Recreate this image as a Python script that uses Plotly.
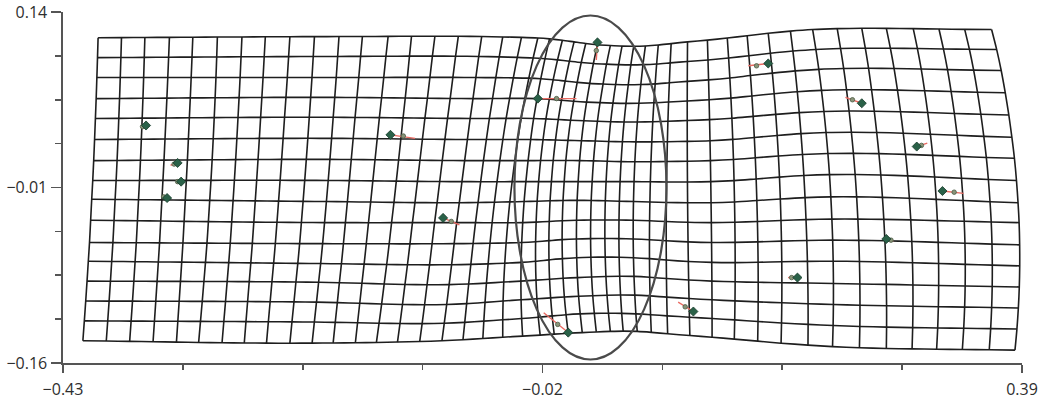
import numpy as np
import plotly.graph_objects as go

# ---------------- deformation grid (data units) -------------
# x position of each of the 45 vertical grid lines at the top row, mid height and bottom row
COL_TOP = [-0.400, -0.380, -0.360, -0.339, -0.319, -0.298, -0.277, -0.257, -0.236, -0.215,
           -0.194, -0.174, -0.152, -0.132, -0.112, -0.092, -0.072, -0.054, -0.038, -0.024,
           -0.014, -0.003, 0.007, 0.017, 0.027, 0.038, 0.048, 0.058, 0.068, 0.079,
           0.090, 0.104, 0.121, 0.138, 0.155, 0.173, 0.192, 0.211, 0.232, 0.253,
           0.274, 0.297, 0.319, 0.341, 0.364]
COL_MID = [-0.405, -0.385, -0.365, -0.345, -0.325, -0.304, -0.284, -0.265, -0.245, -0.224,
           -0.204, -0.186, -0.166, -0.146, -0.128, -0.109, -0.090, -0.074, -0.060, -0.047,
           -0.035, -0.024, -0.013, -0.002, 0.010, 0.022, 0.034, 0.046, 0.058, 0.072,
           0.086, 0.104, 0.124, 0.144, 0.163, 0.183, 0.204, 0.226, 0.248, 0.270,
           0.293, 0.316, 0.339, 0.362, 0.386]
COL_BOT = [-0.413, -0.393, -0.373, -0.353, -0.333, -0.314, -0.294, -0.275, -0.256, -0.236,
           -0.217, -0.199, -0.180, -0.162, -0.144, -0.125, -0.106, -0.088, -0.071, -0.054,
           -0.037, -0.022, -0.010, 0.002, 0.014, 0.026, 0.038, 0.049, 0.061, 0.073,
           0.087, 0.106, 0.125, 0.144, 0.164, 0.184, 0.207, 0.228, 0.251, 0.274,
           0.296, 0.317, 0.339, 0.362, 0.384]

# y position of the 16 horizontal grid lines, read at a few grid columns
STATION_COLS = [0, 10, 16, 20, 24, 28, 32, 37, 44]
ROWS_AT_C00 = [0.118, 0.101, 0.084, 0.066, 0.049, 0.031, 0.013, -0.004, -0.020, -0.038, -0.057, -0.073, -0.090, -0.107, -0.124, -0.141]
ROWS_AT_C10 = [0.119, 0.102, 0.084, 0.067, 0.050, 0.032, 0.014, -0.004, -0.022, -0.040, -0.058, -0.075, -0.091, -0.108, -0.125, -0.143]
ROWS_AT_C16 = [0.119, 0.102, 0.084, 0.066, 0.049, 0.031, 0.013, -0.005, -0.023, -0.040, -0.058, -0.076, -0.093, -0.110, -0.126, -0.141]
ROWS_AT_C20 = [0.117, 0.100, 0.083, 0.066, 0.049, 0.031, 0.013, -0.005, -0.022, -0.040, -0.057, -0.074, -0.090, -0.106, -0.122, -0.137]
ROWS_AT_C24 = [0.112, 0.096, 0.079, 0.063, 0.047, 0.030, 0.013, -0.005, -0.021, -0.038, -0.054, -0.070, -0.087, -0.103, -0.118, -0.134]
ROWS_AT_C28 = [0.111, 0.095, 0.078, 0.062, 0.046, 0.029, 0.012, -0.005, -0.022, -0.038, -0.054, -0.070, -0.086, -0.102, -0.118, -0.133]
ROWS_AT_C32 = [0.116, 0.099, 0.082, 0.065, 0.048, 0.030, 0.013, -0.005, -0.023, -0.040, -0.057, -0.074, -0.090, -0.106, -0.122, -0.138]
ROWS_AT_C37 = [0.125, 0.108, 0.091, 0.073, 0.055, 0.037, 0.019, 0.001, -0.018, -0.037, -0.055, -0.073, -0.092, -0.110, -0.128, -0.146]
ROWS_AT_C44 = [0.125, 0.108, 0.090, 0.071, 0.052, 0.033, 0.015, -0.004, -0.023, -0.040, -0.059, -0.077, -0.095, -0.113, -0.131, -0.149]

# ---------------- landmarks ----------------
LM_TARGET_X = [-0.359, -0.332, -0.329, -0.341, -0.150, -0.105, -0.024, 0.027, 0.002, 0.109, 0.173, 0.198, 0.253, 0.300, 0.322, 0.274]
LM_TARGET_Y = [0.043, 0.011, -0.005, -0.019, 0.035, -0.036, 0.066, 0.114, -0.134, -0.116, 0.096, -0.087, 0.062, 0.025, -0.013, -0.054]
LM_REF_X = [-0.362, -0.335, -0.332, -0.344, -0.139, -0.098, -0.008, 0.026, -0.007, 0.102, 0.163, 0.193, 0.245, 0.304, 0.332, 0.278]
LM_REF_Y = [0.042, 0.010, -0.005, -0.018, 0.034, -0.039, 0.066, 0.107, -0.127, -0.112, 0.094, -0.087, 0.065, 0.026, -0.014, -0.055]
LM_VEC_END_X = [-0.363, -0.338, -0.333, -0.345, -0.129, -0.091, 0.009, 0.026, -0.019, 0.096, 0.156, 0.190, 0.239, 0.309, 0.340, 0.280]
LM_VEC_END_Y = [0.041, 0.009, -0.005, -0.018, 0.032, -0.042, 0.066, 0.099, -0.117, -0.108, 0.094, -0.087, 0.067, 0.028, -0.015, -0.056]

# highlighted region (ellipse bounding box)
ELLIPSE_X = [-0.044, 0.086]
ELLIPSE_Y = [-0.157, 0.137]

X_RANGE = [-0.43, 0.39]
Y_RANGE = [-0.16, 0.14]
X_LABEL_TICKS = [-0.43, -0.02, 0.39]
X_MINOR_TICKS = [-0.3275, -0.225, -0.1225, 0.0825, 0.185, 0.2875]
Y_LABEL_TICKS = [0.14, -0.01, -0.16]
Y_MINOR_TICKS = [0.1025, 0.065, 0.0275, -0.0475, -0.085, -0.1225]


def hermite(xk, yk, xq):
    xk = np.asarray(xk, float)
    yk = np.asarray(yk, float)
    xq = np.asarray(xq, float)
    m = np.gradient(yk, xk)
    idx = np.clip(np.searchsorted(xk, xq, side="right") - 1, 0, len(xk) - 2)
    h = xk[idx + 1] - xk[idx]
    t = (xq - xk[idx]) / h
    h00 = 2 * t**3 - 3 * t**2 + 1
    h10 = t**3 - 2 * t**2 + t
    h01 = -2 * t**3 + 3 * t**2
    h11 = t**3 - t**2
    return h00 * yk[idx] + h10 * h * m[idx] + h01 * yk[idx + 1] + h11 * h * m[idx + 1]


n_cols = len(COL_TOP)
n_rows = len(ROWS_AT_C00)
rows_station = np.array([ROWS_AT_C00, ROWS_AT_C10, ROWS_AT_C16, ROWS_AT_C20, ROWS_AT_C24,
                         ROWS_AT_C28, ROWS_AT_C32, ROWS_AT_C37, ROWS_AT_C44])

jj = np.arange(n_rows, dtype=float)
jm = (n_rows - 1) / 2.0
je = n_rows - 1.0
L0 = (jj - jm) * (jj - je) / ((0 - jm) * (0 - je))
L1 = (jj - 0) * (jj - je) / ((jm - 0) * (jm - je))
L2 = (jj - 0) * (jj - jm) / ((je - 0) * (je - jm))
top = np.array(COL_TOP); mid = np.array(COL_MID); bot = np.array(COL_BOT)
NX = L0[:, None] * top[None, :] + L1[:, None] * mid[None, :] + L2[:, None] * bot[None, :]
ii = np.arange(n_cols, dtype=float)
NY = np.array([hermite(STATION_COLS, rows_station[:, j], ii) for j in range(n_rows)])

fig = go.Figure()
GRID_STYLE = dict(color="#1e1e1e", width=1.6, shape="spline", smoothing=0.8)
for j in range(n_rows):
    fig.add_trace(go.Scatter(x=NX[j, :], y=NY[j, :], mode="lines", line=GRID_STYLE,
                             hoverinfo="skip", showlegend=False))
for i in range(n_cols):
    fig.add_trace(go.Scatter(x=NX[:, i], y=NY[:, i], mode="lines", line=GRID_STYLE,
                             hoverinfo="skip", showlegend=False))

vx, vy = [], []
for k in range(len(LM_TARGET_X)):
    vx += [LM_TARGET_X[k], LM_VEC_END_X[k], None]
    vy += [LM_TARGET_Y[k], LM_VEC_END_Y[k], None]
fig.add_trace(go.Scatter(x=vx, y=vy, mode="lines", line=dict(color="#ea6a62", width=1.4),
                         hoverinfo="skip", showlegend=False))
fig.add_trace(go.Scatter(x=LM_REF_X, y=LM_REF_Y, mode="markers",
                         marker=dict(symbol="circle", size=4.5, color="#8a9479",
                                     line=dict(color="#4a5a44", width=0.8)),
                         showlegend=False))
fig.add_trace(go.Scatter(x=LM_TARGET_X, y=LM_TARGET_Y, mode="markers",
                         marker=dict(symbol="diamond", size=7, color="#2a6148",
                                     line=dict(color="#163a2a", width=0.8)),
                         showlegend=False))

fig.add_shape(type="circle", xref="x", yref="y",
              x0=ELLIPSE_X[0], x1=ELLIPSE_X[1], y0=ELLIPSE_Y[0], y1=ELLIPSE_Y[1],
              line=dict(color="#4a4a4a", width=2.2))

tick_font = dict(family="Open Sans, DejaVu Sans, sans-serif", size=16, color="#2e2e2e")
axis_common = dict(showgrid=False, zeroline=False, showline=True, linecolor="#555555",
                   linewidth=1.6, ticks="outside", tickwidth=1.6, tickcolor="#555555",
                   tickfont=tick_font, automargin=False, tickmode="array")
fig.update_xaxes(range=X_RANGE, tickvals=X_LABEL_TICKS, ticklen=8,
                 minor=dict(tickmode="array", tickvals=X_MINOR_TICKS, ticks="outside",
                            ticklen=5, tickwidth=1.6, tickcolor="#555555"),
                 ticklabelstandoff=3, **axis_common)
fig.update_yaxes(range=Y_RANGE, tickvals=Y_LABEL_TICKS, ticklen=10,
                 minor=dict(tickmode="array", tickvals=Y_MINOR_TICKS, ticks="outside",
                            ticklen=6, tickwidth=1.6, tickcolor="#555555"),
                 ticklabelstandoff=1, **axis_common)
fig.update_xaxes(tickformat=".2f")
fig.update_yaxes(tickformat=".2f")

fig.update_layout(width=1046, height=405, margin=dict(l=63, r=24, t=12, b=42, autoexpand=False),
                  plot_bgcolor="white", paper_bgcolor="white", showlegend=False)

fig.write_html("out.html", config={"displayModeBar": False, "staticPlot": True},
               post_script="document.body.style.margin='0';document.body.style.overflow='hidden';")
